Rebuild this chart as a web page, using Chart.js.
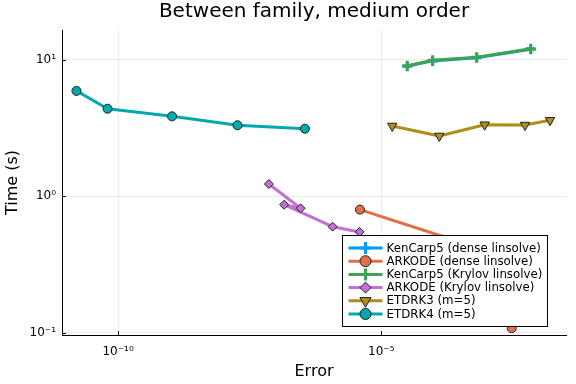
<!DOCTYPE html>
<html>
<head>
<meta charset="utf-8">
<script src="https://cdn.jsdelivr.net/npm/chart.js@4"></script>
<style>
  html, body { margin: 0; padding: 0; background: #fff; }
  #wrap { width: 576px; height: 384px; }
</style>
</head>
<body>
<div id="wrap"><canvas id="chart" width="576" height="384"></canvas></div>
<script>
// series names
const seriesNames = ['KenCarp5 (dense linsolve)', 'ARKODE (dense linsolve)', 'KenCarp5 (Krylov linsolve)',
  'ARKODE (Krylov linsolve)', 'ETDRK3 (m=5)', 'ETDRK4 (m=5)'];

// error (x) and time (y) values
const errKenCarpDense = [3.12e-5, 9.48e-5, 6.52e-4, 6.92e-3];
const timeKenCarpDense = [9.0, 9.85, 10.4, 12.0];
const errArkodeDense = [3.94e-6, 3.13e-4, 1.45e-3, 3.01e-3];
const timeArkodeDense = [0.798, 0.462, 0.206, 0.1076];
const errKenCarpKrylov = [3.12e-5, 9.48e-5, 6.52e-4, 6.92e-3];
const timeKenCarpKrylov = [9.08, 9.95, 10.47, 12.1];
const errArkodeKrylov = [7.33e-8, 2.94e-7, 1.43e-7, 1.19e-6, 3.88e-6];
const timeArkodeKrylov = [1.23, 0.816, 0.867, 0.598, 0.547];
const errEtdrk3 = [1.62e-5, 1.27e-4, 9.25e-4, 5.40e-3, 1.61e-2];
const timeEtdrk3 = [3.28, 2.77, 3.35, 3.33, 3.61];
const errEtdrk4 = [1.62e-11, 6.31e-11, 1.06e-9, 1.86e-8, 3.55e-7];
const timeEtdrk4 = [5.93, 4.39, 3.86, 3.32, 3.13];

// tick values and labels
const xTicks = [1e-10, 1e-5];
const xTickLabels = ['10⁻¹⁰', '10⁻⁵'];
const yTicks = [0.1, 1, 10];
const yTickLabels = ['10⁻¹', '10⁰', '10¹'];

const colors = ['#009AFA', '#E36F47', '#3EA44E', '#C371D2', '#AC8E18', '#00A9AD'];
const FONT = 'DejaVu Sans';

function pts(xs, ys) {
  return xs.map((x, i) => ({ x: x, y: ys[i] }));
}

const markerStyles = [
  { pointStyle: 'cross', radius: 5, rotation: 0, border: colors[0], fill: colors[0], bw: 3 },
  { pointStyle: 'circle', radius: 4.5, rotation: 0, border: '#222', fill: colors[1], bw: 1 },
  { pointStyle: 'cross', radius: 5, rotation: 0, border: colors[2], fill: colors[2], bw: 3 },
  { pointStyle: 'rectRot', radius: 4.5, rotation: 0, border: '#222', fill: colors[3], bw: 1 },
  { pointStyle: 'triangle', radius: 5.5, rotation: 180, border: '#222', fill: colors[4], bw: 1 },
  { pointStyle: 'circle', radius: 4.5, rotation: 0, border: '#222', fill: colors[5], bw: 1 }
];

const allData = [
  pts(errKenCarpDense, timeKenCarpDense),
  pts(errArkodeDense, timeArkodeDense),
  pts(errKenCarpKrylov, timeKenCarpKrylov),
  pts(errArkodeKrylov, timeArkodeKrylov),
  pts(errEtdrk3, timeEtdrk3),
  pts(errEtdrk4, timeEtdrk4)
];

const datasets = allData.map((d, i) => ({
  label: seriesNames[i],
  data: d,
  showLine: true,
  borderColor: colors[i],
  borderWidth: 3,
  borderJoinStyle: 'round',
  borderCapStyle: 'round',
  pointStyle: markerStyles[i].pointStyle,
  pointRadius: markerStyles[i].radius,
  pointRotation: markerStyles[i].rotation,
  pointBackgroundColor: markerStyles[i].fill,
  pointBorderColor: markerStyles[i].border,
  pointBorderWidth: markerStyles[i].bw,
  order: 6 - i
}));

// title, inner tick marks and the boxed legend inside the plot
const decorPlugin = {
  id: 'decor',
  afterDraw(chart) {
    const ctx = chart.ctx;
    const area = chart.chartArea;
    const xs = chart.scales.x, ys = chart.scales.y;
    ctx.save();
    ctx.fillStyle = '#000';
    ctx.font = '20px ' + FONT;
    ctx.textAlign = 'center';
    ctx.textBaseline = 'middle';
    ctx.fillText('Between family, medium order', (area.left + area.right) / 2, 12);

    ctx.strokeStyle = '#000';
    ctx.lineWidth = 1;
    xTicks.forEach(v => {
      const px = Math.round(xs.getPixelForValue(v)) + 0.5;
      ctx.beginPath(); ctx.moveTo(px, area.bottom); ctx.lineTo(px, area.bottom - 4); ctx.stroke();
    });
    yTicks.forEach(v => {
      const py = Math.round(ys.getPixelForValue(v)) + 0.5;
      ctx.beginPath(); ctx.moveTo(area.left, py); ctx.lineTo(area.left + 4, py); ctx.stroke();
    });

    // legend box
    const bx = 342.5, by = 235.5, bw = 205, bh = 91;
    ctx.fillStyle = '#fff';
    ctx.fillRect(bx, by, bw, bh);
    ctx.strokeStyle = '#000';
    ctx.strokeRect(bx, by, bw, bh);
    ctx.font = '11.8px ' + FONT;
    ctx.textAlign = 'left';
    ctx.textBaseline = 'middle';
    seriesNames.forEach((name, i) => {
      const y = by + 12.5 + i * 13.2;
      ctx.strokeStyle = colors[i];
      ctx.lineWidth = 3;
      ctx.beginPath(); ctx.moveTo(bx + 6, y); ctx.lineTo(bx + 40, y); ctx.stroke();
      const m = markerStyles[i];
      ctx.fillStyle = m.fill;
      ctx.strokeStyle = m.border;
      ctx.lineWidth = m.bw;
      Chart.helpers.drawPoint(ctx, {
        pointStyle: m.pointStyle, radius: m.radius + 1, rotation: m.rotation, borderWidth: m.bw
      }, bx + 23, y);
      ctx.fillStyle = '#000';
      ctx.fillText(name, bx + 44, y + 0.5);
    });
    ctx.restore();
  }
};

const ctx = document.getElementById('chart').getContext('2d');
new Chart(ctx, {
  type: 'scatter',
  data: { datasets: datasets },
  options: {
    responsive: false,
    animation: false,
    layout: { padding: { top: 30, right: 10, left: 0, bottom: 0 } },
    plugins: {
      legend: { display: false },
      title: { display: false },
      tooltip: { enabled: false }
    },
    scales: {
      x: {
        type: 'logarithmic',
        min: 8.6e-12,
        max: 3.24e-2,
        afterFit: s => { s.height = 49; },
        afterBuildTicks: s => { s.ticks = xTicks.map(v => ({ value: v })); },
        ticks: {
          color: '#000',
          font: { family: FONT, size: 12 },
          padding: 10,
          maxRotation: 0,
          callback: (v) => xTickLabels[xTicks.indexOf(v)] || ''
        },
        grid: { color: 'rgba(0,0,0,0.07)', drawTicks: false },
        border: { color: '#000', width: 1 },
        title: { display: true, text: 'Error', color: '#000', font: { family: FONT, size: 16 }, padding: { top: 2, bottom: 3 } }
      },
      y: {
        type: 'logarithmic',
        min: 0.0959,
        max: 16.6,
        afterFit: s => { s.width = 62; },
        afterBuildTicks: s => { s.ticks = yTicks.map(v => ({ value: v })); },
        ticks: {
          color: '#000',
          font: { family: FONT, size: 12 },
          padding: 6,
          callback: (v) => yTickLabels[yTicks.indexOf(v)] || ''
        },
        grid: { color: 'rgba(0,0,0,0.07)', drawTicks: false },
        border: { color: '#000', width: 1 },
        title: { display: true, text: 'Time (s)', color: '#000', font: { family: FONT, size: 16 }, padding: { top: 3, bottom: 3 } }
      }
    }
  },
  plugins: [decorPlugin]
});
</script>
</body>
</html>
